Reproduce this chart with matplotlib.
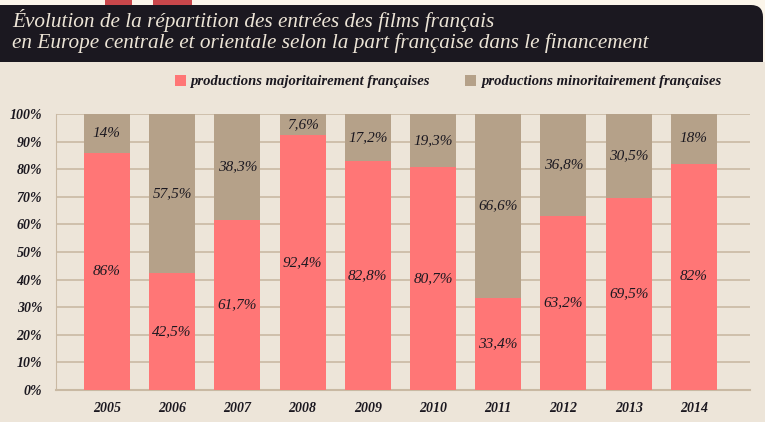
import numpy as np
import matplotlib.pyplot as plt
from matplotlib.patches import FancyBboxPatch, Rectangle

# Data
years = ['2005', '2006', '2007', '2008', '2009', '2010', '2011', '2012', '2013', '2014']
majo = [86, 42.5, 61.7, 92.4, 82.8, 80.7, 33.4, 63.2, 69.5, 82]
mino = [14, 57.5, 38.3, 7.6, 17.2, 19.3, 66.6, 36.8, 30.5, 18]
majo_labels = ['86%', '42,5%', '61,7%', '92,4%', '82,8%', '80,7%', '33,4%', '63,2%', '69,5%', '82%']
mino_labels = ['14%', '57,5%', '38,3%', '7,6%', '17,2%', '19,3%', '66,6%', '36,8%', '30,5%', '18%']
yticks = [0, 10, 20, 30, 40, 50, 60, 70, 80, 90, 100]

red = '#ff7676'
tan = '#b5a189'
bg = '#ede5d9'
grid_c = '#c9b9a3'
dark = '#1b1820'

plt.rcParams['font.family'] = ['Liberation Serif', 'DejaVu Serif']

fig = plt.figure(figsize=(7.65, 4.22), dpi=100)
fig.patch.set_facecolor(bg)

# light strip on top, then the dark header band (pixel coords)
fig.patches.append(Rectangle((0, 422 - 62), 765, 62, transform=None,
                             facecolor='#fbf5ea', edgecolor='none', zorder=0))
# small red splashes at the top edge
for x0, w in [(105, 27), (153, 39)]:
    fig.patches.append(Rectangle((x0, 422 - 6), w, 6, transform=None,
                                 facecolor='#c9474b', edgecolor='none', zorder=1))
fig.patches.append(FancyBboxPatch((-30, 422 - 62), 793, 57,
                                  boxstyle='round,pad=0,rounding_size=12',
                                  transform=None, facecolor=dark, edgecolor='none', zorder=2))
fig.patches.append(Rectangle((0, 422 - 62), 763, 12, transform=None,
                             facecolor=dark, edgecolor='none', zorder=2))

fig.text(12 / 765, 1 - 20 / 422, 'Évolution de la répartition des entrées des films français',
         color='#ece4d6', fontsize=15.3, style='italic', va='center', ha='left', zorder=3)
fig.text(12 / 765, 1 - 43 / 422,
         'en Europe centrale et orientale selon la part française dans le financement',
         color='#ece4d6', fontsize=15.3, style='italic', va='center', ha='left', zorder=3)

# legend
fig.patches.append(Rectangle((175, 422 - 86), 11, 11, transform=None, facecolor=red, edgecolor='none'))
fig.patches.append(Rectangle((465, 422 - 86), 11, 11, transform=None, facecolor=tan, edgecolor='none'))
fig.text(190 / 765, 1 - 81 / 422, 'productions majoritairement françaises', fontsize=10.5,
         style='italic', weight='bold', color='#1b1820', va='center', ha='left')
fig.text(481 / 765, 1 - 81 / 422, 'productions minoritairement françaises', fontsize=10.5,
         style='italic', weight='bold', color='#1b1820', va='center', ha='left')

ax = fig.add_axes([56 / 765, 32 / 422, 694 / 765, 276 / 422])
ax.set_facecolor(bg)
x = np.arange(len(years))
ax.bar(x, majo, width=0.705, color=red, zorder=3)
ax.bar(x, mino, bottom=majo, width=0.705, color=tan, zorder=3)

for i in x:
    ax.text(i, majo[i] / 2, majo_labels[i], ha='center', va='center', fontsize=11,
            style='italic', color='#1b1820', zorder=4)
    ax.text(i, majo[i] + mino[i] / 2, mino_labels[i], ha='center', va='center', fontsize=11,
            style='italic', color='#1b1820', zorder=4)

ax.set_xlim(-0.78, 9.86)
ax.set_ylim(0, 100)
ax.set_yticks(yticks)
ax.set_yticklabels([f'{v}%' for v in yticks])
ax.set_xticks(x)
ax.set_xticklabels(years)
for lab in ax.get_yticklabels() + ax.get_xticklabels():
    lab.set_fontstyle('italic')
    lab.set_fontweight('bold')
    lab.set_fontsize(10)
    lab.set_color('#1b1820')
ax.tick_params(length=0)
ax.tick_params(axis='y', pad=10)
ax.tick_params(axis='x', pad=9)
ax.grid(axis='y', color=grid_c, linewidth=1.2, zorder=0)
for s in ['top', 'right']:
    ax.spines[s].set_visible(False)
ax.spines['left'].set_color(grid_c)
ax.spines['bottom'].set_color(grid_c)
ax.spines['bottom'].set_linewidth(1.5)

fig.savefig('out.png', dpi=100, facecolor=fig.get_facecolor())
